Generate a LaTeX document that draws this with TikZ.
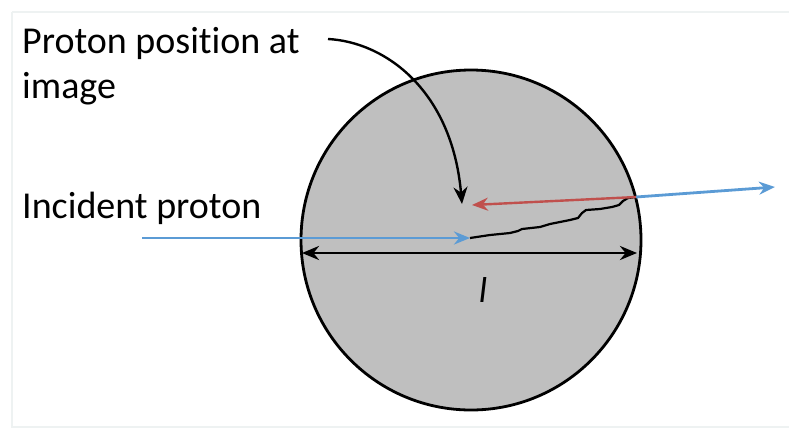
\documentclass[tikz,border=0pt]{standalone}
\usepackage{fontspec}
\setmainfont[Ligatures=NoCommon]{Carlito}
\usepackage{xcolor}
\usepackage{tikz}
\usetikzlibrary{arrows.meta, positioning}

\definecolor{beamblue}{HTML}{5B9BD5}
\definecolor{imgred}{HTML}{C0504D}
\definecolor{framegray}{HTML}{EEF2F2}

\begin{document}
\begin{tikzpicture}[
      x=1pt, y=-1pt,
      lbl/.style={inner sep=0pt, font=\fontsize{38}{45}\selectfont, align=left},
      ball/.style={circle, draw, line width=2.8pt, fill=black!25, minimum size=340pt, inner sep=0pt},
      beam/.style={-{Stealth[length=16pt, width=13pt]}, line width=2.8pt, beamblue},
      back/.style={-{Stealth[length=16pt, width=13pt]}, line width=2.4pt, imgred},
      arr/.style={-{Stealth[length=17pt, width=14pt]}, line width=2.4pt, black},
      dim/.style={{Stealth[length=17pt, width=14pt]}-{Stealth[length=17pt, width=14pt]}, line width=2.8pt, black},
      track/.style={line width=2.2pt, black, line join=round}
    ]
    \useasboundingbox (0,0) rectangle (789,429);
    \draw[framegray, line width=2pt] (12,12) -- (12,427) -- (789,427);
    \draw[framegray, line width=2pt] (12,12) -- (789,12);

    \node[ball] (target) at (471,240) {};

    \node[lbl, anchor=north west] (poslbl) at (22,27) {Proton position at\\image};
    \node[lbl, anchor=base west] (inclbl) at (22,218) {Incident proton};
    \node[inner sep=0pt, font=\fontsize{36}{36}\selectfont\itshape] (len) at (483,290) {l};

    \coordinate (src)   at (142,238);
    \coordinate (entry) at (470,238);
    \coordinate (exit)  at (636,197);
    \coordinate (out)   at (775,187);
    \coordinate (image) at (472,205);
    \coordinate (left)  at (302,253);
    \coordinate (right) at (637,253);
    \coordinate (from)  at (328,39);
    \coordinate (tip)   at (462,204);

    \draw[track] (entry) -- (490,235) -- (510,233) -- (518,231) -- (522,229) -- (540,227)
      -- (550,224) -- (560,222) -- (570,220) -- (578,218) -- (582,213) -- (586,210)
      -- (600,209) -- (612,207) -- (619,205) -- (623,201) -- (628,198) -- (exit);

    \draw[beam] (src) -- (entry);
    \draw[beam] (exit) -- (out);
    \draw[back] (exit) -- (image);
    \draw[dim] (left) -- (right);
    \draw[arr] (from) .. controls (385,42) and (452,90) .. (tip);
  \end{tikzpicture}
\end{document}
